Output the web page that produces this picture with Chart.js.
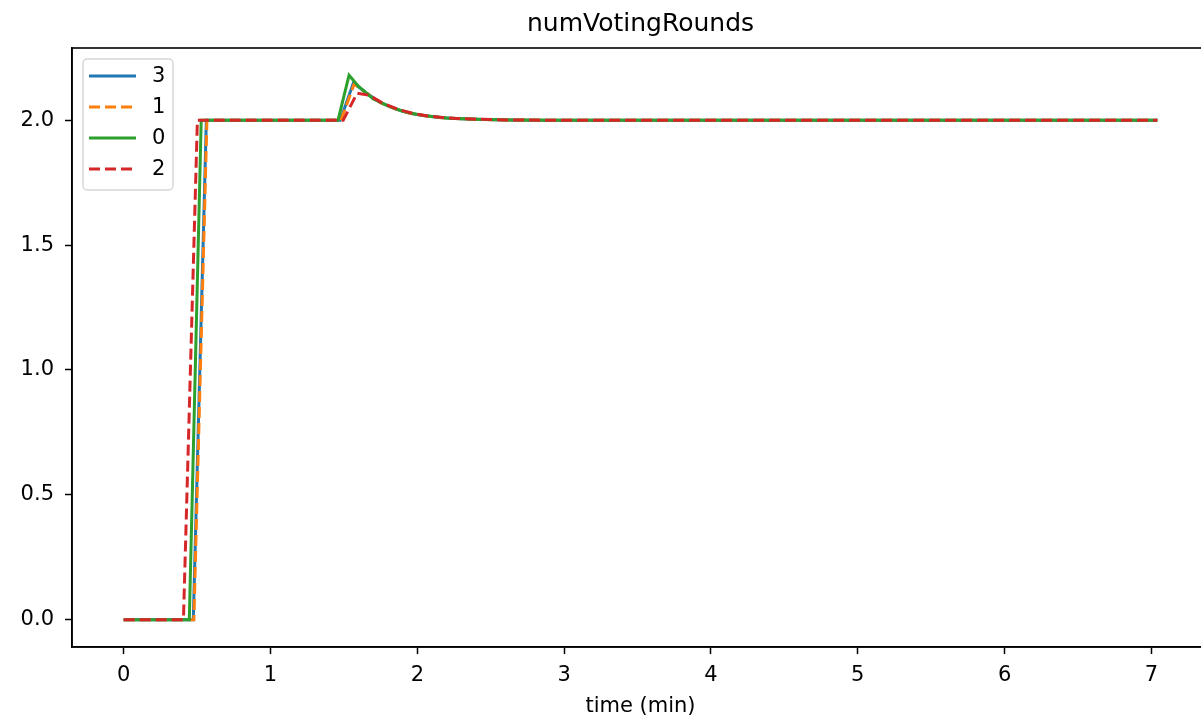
<!DOCTYPE html>
<html>
<head>
<meta charset="utf-8">
<script src="https://cdn.jsdelivr.net/npm/chart.js@4.4.1/dist/chart.umd.min.js"></script>
<style>
  html, body { margin: 0; padding: 0; background: #fff; overflow: hidden; }
  #wrap { position: absolute; left: 0; top: 0; width: 1210px; height: 723px; }
</style>
</head>
<body>
<div id="wrap"><canvas id="chart"></canvas></div>
<script>
// time in minutes, value = numVotingRounds, one pair of arrays per run
const t3 = [0, 0.474, 0.563, 1.475, 1.565, 1.65, 1.75, 1.85, 1.95, 2.05, 2.15, 2.25, 2.4, 2.6, 2.85, 7.04];
const v3 = [0, 0, 2, 2, 2.15, 2.11, 2.07, 2.045, 2.028, 2.018, 2.011, 2.007, 2.004, 2.001, 2.0, 2.0];

const t1 = [0, 0.478, 0.567, 1.48, 1.57, 1.65, 1.75, 1.85, 1.95, 2.05, 2.15, 2.25, 2.4, 2.6, 2.85, 7.04];
const v1 = [0, 0, 2, 2, 2.145, 2.11, 2.07, 2.045, 2.028, 2.018, 2.011, 2.007, 2.004, 2.001, 2.0, 2.0];

const t0 = [0, 0.447, 0.528, 1.46, 1.535, 1.6, 1.7, 1.8, 1.9, 2.0, 2.1, 2.2, 2.3, 2.45, 2.65, 2.9, 7.04];
const v0 = [0, 0, 2, 2, 2.18, 2.135, 2.085, 2.057, 2.036, 2.023, 2.015, 2.009, 2.006, 2.003, 2.001, 2.0, 2.0];

const t2 = [0, 0.407, 0.502, 1.495, 1.59, 1.67, 1.77, 1.87, 1.97, 2.07, 2.17, 2.27, 2.4, 2.6, 2.85, 7.04];
const v2 = [0, 0, 2, 2, 2.108, 2.1, 2.066, 2.043, 2.027, 2.017, 2.011, 2.007, 2.004, 2.001, 2.0, 2.0];

const seriesNames = ['3', '1', '0', '2'];
const xTicks = [0, 1, 2, 3, 4, 5, 6, 7];
const yTicks = [0, 0.5, 1, 1.5, 2];

const FONT = 'DejaVu Sans';

function pts(ts, vs) {
    return ts.map((t, i) => ({ x: t, y: vs[i] }));
}

function makeSet(label, ts, vs, color, dashed, order) {
    return {
        label: label,
        data: pts(ts, vs),
        borderColor: color,
        backgroundColor: color,
        borderWidth: 3,
        borderDash: dashed ? [11, 5] : [],
        showLine: true,
        pointRadius: 0,
        tension: 0,
        order: order
    };
}

// frame on all four sides, like the matplotlib spines
const framePlugin = {
    id: 'frame',
    afterDraw(chart) {
        const a = chart.chartArea;
        const ctx = chart.ctx;
        ctx.save();
        ctx.strokeStyle = '#000';
        ctx.lineWidth = 1.6;
        ctx.strokeRect(a.left, a.top, a.right - a.left, a.bottom - a.top);
        ctx.restore();
    }
};

// legend box in the upper left corner
const boxLegend = {
    id: 'boxLegend',
    afterDraw(chart) {
        const ctx = chart.ctx;
        const x0 = 83, y0 = 59, w = 90, h = 131, r = 4;
        ctx.save();
        ctx.beginPath();
        ctx.roundRect(x0, y0, w, h, r);
        ctx.fillStyle = 'rgba(255,255,255,0.8)';
        ctx.fill();
        ctx.strokeStyle = '#d6d6d6';
        ctx.lineWidth = 1.5;
        ctx.stroke();
        chart.data.datasets.forEach((ds, i) => {
            const y = 76 + i * 31;
            ctx.beginPath();
            ctx.setLineDash(ds.borderDash);
            ctx.strokeStyle = ds.borderColor;
            ctx.lineWidth = 3;
            ctx.moveTo(89, y);
            ctx.lineTo(136, y);
            ctx.stroke();
            ctx.setLineDash([]);
            ctx.fillStyle = '#000';
            ctx.font = '21px "' + FONT + '"';
            ctx.textBaseline = 'middle';
            ctx.textAlign = 'left';
            ctx.fillText(ds.label, 152, y + 1);
        });
        ctx.restore();
    }
};

const ctx = document.getElementById('chart').getContext('2d');
new Chart(ctx, {
    type: 'scatter',
    data: {
        datasets: [
            makeSet(seriesNames[0], t3, v3, '#1f77b4', false, 4),
            makeSet(seriesNames[1], t1, v1, '#ff7f0e', true, 3),
            makeSet(seriesNames[2], t0, v0, '#2ca02c', false, 2),
            makeSet(seriesNames[3], t2, v2, '#d62728', true, 1)
        ]
    },
    options: {
        responsive: true,
        maintainAspectRatio: false,
        animation: false,
        layout: { padding: { left: 0, right: 1, top: 0, bottom: 0 } },
        plugins: {
            legend: { display: false },
            tooltip: { enabled: false },
            title: {
                display: true,
                fullSize: false,
                text: 'numVotingRounds',
                color: '#000',
                font: { family: FONT, size: 25, weight: 'normal', lineHeight: 1.2 },
                padding: { top: 9, bottom: 9 }
            }
        },
        scales: {
            x: {
                type: 'linear',
                min: -0.352,
                max: 7.392,
                afterBuildTicks: (s) => { s.ticks = xTicks.map(v => ({ value: v })); },
                afterFit: (s) => { s.height = 76; },
                ticks: {
                    color: '#000',
                    font: { family: FONT, size: 21 },
                    padding: 9,
                    maxRotation: 0,
                    callback: (v) => String(v)
                },
                grid: {
                    display: true,
                    drawOnChartArea: false,
                    drawTicks: true,
                    tickLength: 7,
                    tickWidth: 1.5,
                    tickColor: '#000'
                },
                border: { display: true, color: '#000', width: 1.6 },
                title: {
                    display: true,
                    text: 'time (min)',
                    color: '#000',
                    font: { family: FONT, size: 21 },
                    padding: { top: 0, bottom: 4 }
                }
            },
            y: {
                type: 'linear',
                min: -0.109,
                max: 2.289,
                afterBuildTicks: (s) => { s.ticks = yTicks.map(v => ({ value: v })); },
                afterFit: (s) => { s.width = 72; },
                ticks: {
                    color: '#000',
                    font: { family: FONT, size: 21 },
                    padding: 11,
                    callback: (v) => v.toFixed(1)
                },
                grid: {
                    display: true,
                    drawOnChartArea: false,
                    drawTicks: true,
                    tickLength: 7,
                    tickWidth: 1.5,
                    tickColor: '#000'
                },
                border: { display: true, color: '#000', width: 1.6 }
            }
        }
    },
    plugins: [framePlugin, boxLegend]
});
</script>
</body>
</html>
